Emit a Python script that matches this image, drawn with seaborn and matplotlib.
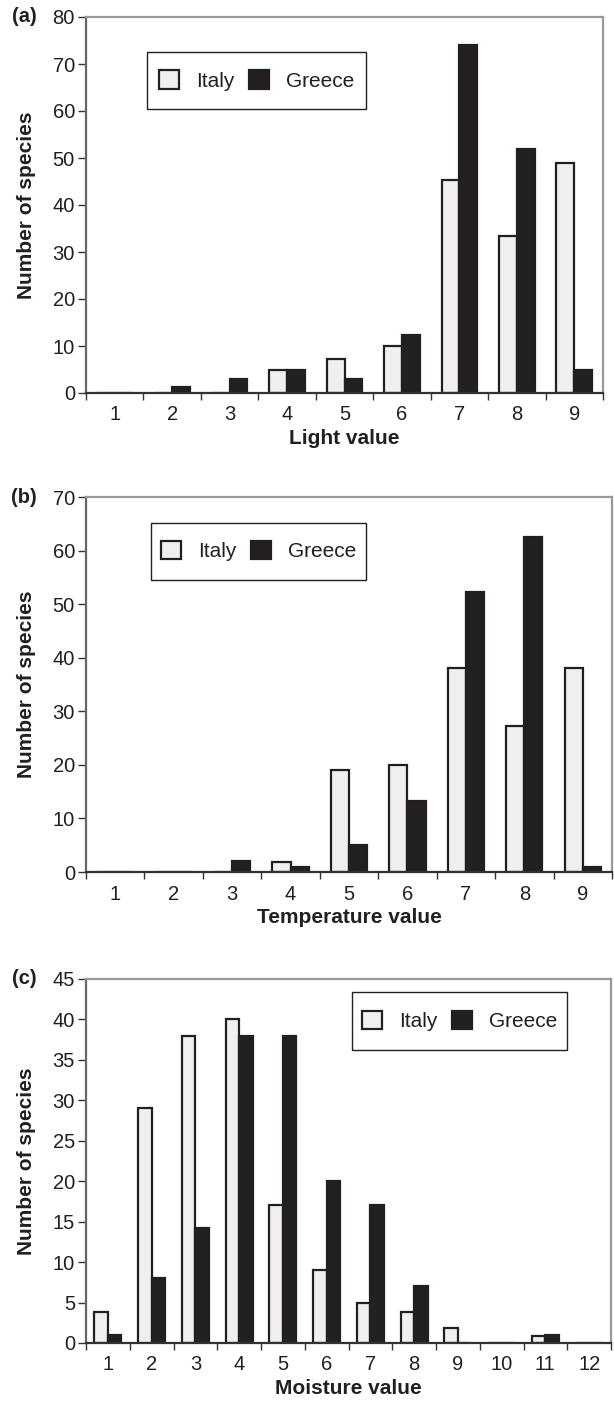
import pandas as pd
import numpy as np
import matplotlib.pyplot as plt
import seaborn as sns
from matplotlib.patches import Patch, Rectangle

# data
light_cats = [1, 2, 3, 4, 5, 6, 7, 8, 9]
light_italy = [0, 0, 0, 5, 7.2, 10, 45.3, 33.3, 49]
light_greece = [0, 1.3, 3, 5, 3, 12.3, 74, 52, 5]

temp_cats = [1, 2, 3, 4, 5, 6, 7, 8, 9]
temp_italy = [0, 0, 0, 1.9, 19, 20, 38, 27.2, 38]
temp_greece = [0, 0, 2, 1, 5, 13.2, 52.2, 62.5, 1]

moist_cats = [1, 2, 3, 4, 5, 6, 7, 8, 9, 10, 11, 12]
moist_italy = [3.8, 29, 38, 40, 17, 9, 5, 3.8, 1.9, 0, 0.9, 0]
moist_greece = [1, 8, 14.2, 38, 38, 20, 17, 7, 0, 0, 1, 0]

sns.set_style("white")
plt.rcParams['font.family'] = ['Liberation Sans', 'DejaVu Sans']
plt.rcParams['text.color'] = '#231f20'
plt.rcParams['axes.labelcolor'] = '#231f20'
plt.rcParams['xtick.color'] = '#231f20'
plt.rcParams['ytick.color'] = '#231f20'

ITALY = '#efefef'
GREECE = '#231f20'
EDGE = '#231f20'

W, H = 614, 1403
fig = plt.figure(figsize=(W / 100, H / 100), dpi=100)


def px_axes(left, right, top, bottom):
    return [left / W, 1 - bottom / H, (right - left) / W, (bottom - top) / H]


panels = [
    ("(a)", light_cats, light_italy, light_greece, "Light value", 80, 10,
     px_axes(86, 603, 17, 393), (0.118, 0.755, 0.424, 0.152)),
    ("(b)", temp_cats, temp_italy, temp_greece, "Temperature value", 70, 10,
     px_axes(86, 612, 497, 872), (0.123, 0.780, 0.409, 0.151)),
    ("(c)", moist_cats, moist_italy, moist_greece, "Moisture value", 45, 5,
     px_axes(86, 611, 979, 1343), (0.507, 0.804, 0.410, 0.160)),
]

for tag, cats, italy, greece, xlab, ymax, ystep, pos, legbox in panels:
    df = pd.DataFrame({
        "value": [str(c) for c in cats] * 2,
        "count": italy + greece,
        "country": ["Italy"] * len(cats) + ["Greece"] * len(cats),
    })
    ax = fig.add_axes(pos)
    sns.barplot(data=df, x="value", y="count", hue="country",
                palette={"Italy": ITALY, "Greece": GREECE},
                width=0.62, gap=0, edgecolor=EDGE, linewidth=1.6,
                legend=False, ax=ax)
    n = len(cats)
    ax.set_xlim(-0.5, n - 0.5)
    ax.set_ylim(0, ymax)
    ax.set_yticks(np.arange(0, ymax + 1, ystep))
    ax.set_xticks(np.arange(-0.5, n, 1.0), minor=True)
    ax.tick_params(which='both', bottom=True, left=True)
    ax.tick_params(axis='x', which='major', length=0, labelsize=14.5, pad=9)
    ax.tick_params(axis='x', which='minor', length=5, width=1.0, direction='out', color='#333333')
    ax.tick_params(axis='y', length=6, width=1.0, direction='out', labelsize=14.5, pad=2, color='#333333')
    ax.set_xlabel(xlab, fontsize=15, fontweight='bold', labelpad=3)
    ax.set_ylabel("Number of species", fontsize=15, fontweight='bold', labelpad=12)

    for side in ['top', 'right']:
        ax.spines[side].set_color('#999999')
        ax.spines[side].set_linewidth(1.6)
    ax.spines['left'].set_color('#666666')
    ax.spines['left'].set_linewidth(1.6)
    ax.spines['bottom'].set_color('#333333')
    ax.spines['bottom'].set_linewidth(1.6)
    ax.spines['bottom'].set_zorder(5)

    # legend box drawn as a frame, legend entries centred in it
    x0, y0, bw, bh = legbox
    ax.add_patch(Rectangle((x0, y0), bw, bh, transform=ax.transAxes, fill=False,
                           edgecolor='#231f20', linewidth=1.0, zorder=6, clip_on=False))
    handles = [Patch(facecolor=ITALY, edgecolor=EDGE, linewidth=1.6, label="Italy"),
               Patch(facecolor=GREECE, edgecolor=GREECE, linewidth=1.6, label="Greece")]
    ax.legend(handles=handles, ncol=2, loc='center',
              bbox_to_anchor=(x0 + bw / 2, y0 + bh / 2), fontsize=15, frameon=False,
              handlelength=0.96, handleheight=0.96, handletextpad=0.82,
              columnspacing=0.7, borderpad=0, borderaxespad=0)

    fig.text(24 / W, pos[1] + pos[3], tag, fontsize=14.5, fontweight='bold',
             va='center', ha='center')

fig.savefig("out.png", dpi=100)
